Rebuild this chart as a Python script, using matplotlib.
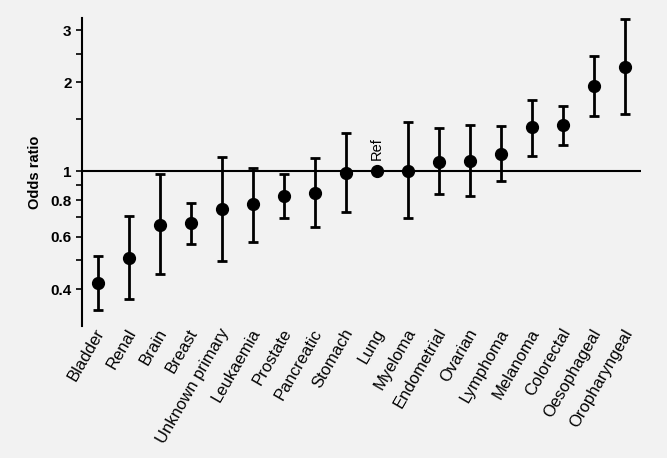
import numpy as np
import matplotlib as mpl
import matplotlib.pyplot as plt
from matplotlib.ticker import FixedLocator, FixedFormatter, NullLocator
from matplotlib.transforms import ScaledTranslation

mpl.rcParams['font.family'] = ['Liberation Sans', 'DejaVu Sans']

# Cancer sites, ordered by odds ratio
sites = ['Bladder', 'Renal', 'Brain', 'Breast', 'Unknown primary', 'Leukaemia',
         'Prostate', 'Pancreatic', 'Stomach', 'Lung', 'Myeloma', 'Endometrial',
         'Ovarian', 'Lymphoma', 'Melanoma', 'Colorectal', 'Oesophageal',
         'Oropharyngeal']
odds = [0.418, 0.508, 0.658, 0.668, 0.746, 0.778, 0.828, 0.848, 0.989, 1.0,
        1.005, 1.074, 1.087, 1.148, 1.407, 1.43, 1.935, 2.26]
ci_low = [0.34, 0.37, 0.449, 0.569, 0.498, 0.578, 0.697, 0.648, 0.729, 1.0,
          0.697, 0.838, 0.828, 0.927, 1.127, 1.227, 1.535, 1.567]
ci_high = [0.519, 0.708, 0.978, 0.78, 1.118, 1.03, 0.978, 1.11, 1.346, 1.0,
           1.47, 1.396, 1.43, 1.42, 1.742, 1.667, 2.45, 3.26]
ref_site = 'Lung'

ytick_vals = [0.4, 0.5, 0.6, 0.7, 0.8, 0.9, 1, 1.5, 2, 2.5, 3]
ytick_text = ['0.4', '', '0.6', '', '0.8', '', '1', '', '2', '', '3']

bg = '#f2f2f2'
fig = plt.figure(figsize=(6.67, 4.58), dpi=100, facecolor=bg)
ax = fig.add_axes([0.123, 0.288, 0.838, 0.673], facecolor=bg)

x = np.arange(len(sites))
odds = np.array(odds)
lower = odds - np.array(ci_low)
upper = np.array(ci_high) - odds

# Reference line at odds ratio 1
ax.axhline(1, color='black', linewidth=1.5, zorder=1)

ax.errorbar(x, odds, yerr=[lower, upper], fmt='o', color='black',
            markersize=8.5, elinewidth=2, capsize=3.5, capthick=2, zorder=3)

# Label the reference category
i_ref = sites.index(ref_site)
ax.annotate('Ref', (x[i_ref], odds[i_ref]), xytext=(0, 8),
            textcoords='offset points', rotation=90, ha='center', va='bottom',
            fontsize=10.5)

ax.set_yscale('log')
ax.set_ylim(0.30, 3.3)
ax.set_xlim(-0.5, 17.5)
ax.yaxis.set_major_locator(FixedLocator(ytick_vals))
ax.yaxis.set_major_formatter(FixedFormatter(ytick_text))
ax.yaxis.set_minor_locator(NullLocator())
ax.tick_params(axis='y', length=4.5, width=1.2, labelsize=11, pad=3)
for lab in ax.get_yticklabels():
    lab.set_fontweight('bold')
ax.set_ylabel('Odds ratio', fontsize=10.5, fontweight='bold', labelpad=6)

ax.set_xticks(x)
ax.set_xticklabels(sites, rotation=60, ha='right', rotation_mode='anchor',
                   fontsize=12)
ax.tick_params(axis='x', length=0, pad=0)
# Nudge the rotated labels slightly left
shift = ScaledTranslation(-3 / 100, 0, fig.dpi_scale_trans)
for lab in ax.get_xticklabels():
    lab.set_transform(lab.get_transform() + shift)

for side in ['top', 'right', 'bottom']:
    ax.spines[side].set_visible(False)
ax.spines['left'].set_linewidth(1.5)

fig.savefig('out.png', dpi=100, facecolor=bg)
